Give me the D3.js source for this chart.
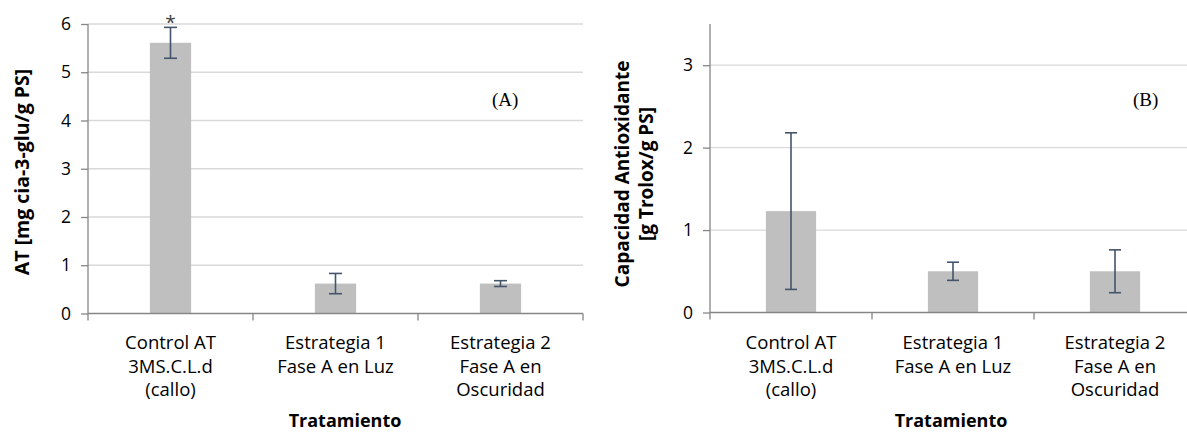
<!DOCTYPE html>
<html>
<head>
<meta charset="utf-8">
<script src="https://cdn.jsdelivr.net/npm/d3@7"></script>
<style>
  body { margin: 0; background: #fff; }
  text { font-family: "Open Sans", "Noto Sans", sans-serif; }
</style>
</head>
<body>
<svg id="chart" width="1187" height="435"></svg>
<script>
// ---------- data ----------
const categories = [
  ["Control AT", "3MS.C.L.d", "(callo)"],
  ["Estrategia 1", "Fase A en Luz"],
  ["Estrategia 2", "Fase A en", "Oscuridad"]
];
const catKeys = ["Control", "Estrategia1", "Estrategia2"];

const valuesA = [5.61, 0.62, 0.62];
const errorsA = [0.32, 0.21, 0.06];
const ticksA = [0, 1, 2, 3, 4, 5, 6];

const valuesB = [1.23, 0.50, 0.50];
const errorsB = [0.95, 0.11, 0.26];
const ticksB = [0, 1, 2, 3];

const svg = d3.select("#chart");

function drawChart(cfg) {
  const g = svg.append("g");
  const x = d3.scaleBand().domain(catKeys).range([cfg.x0, cfg.x1])
    .paddingInner(cfg.pad).paddingOuter(cfg.pad / 2);
  const y = d3.scaleLinear().domain([0, cfg.ymax]).range([cfg.yb, cfg.yt]);
  const step = x.step();

  // gridlines
  g.selectAll("line.grid").data(cfg.ticks.filter(t => t > 0)).enter()
    .append("line")
    .attr("x1", cfg.x0).attr("x2", cfg.x1)
    .attr("y1", d => y(d)).attr("y2", d => y(d))
    .attr("stroke", "#d9d9d9").attr("stroke-width", 1.3);

  // y axis
  const yAxis = d3.axisLeft(y).tickValues(cfg.ticks).tickSize(7).tickPadding(10)
    .tickFormat(d3.format("d"));
  const ya = g.append("g").attr("transform", `translate(${cfg.x0},0)`).call(yAxis);
  ya.select(".domain").attr("stroke", "#868686").attr("stroke-width", 1.3)
    .attr("d", `M0,${y(cfg.ymax)}V${cfg.yb}`);
  ya.selectAll(".tick line").attr("stroke", "#868686").attr("stroke-width", 1.3);
  ya.selectAll(".tick text").attr("font-size", 17.5).attr("fill", "#000")
    .style("font-family", "Open Sans");

  // bars
  g.selectAll("rect.bar").data(cfg.values).enter().append("rect")
    .attr("x", (d, i) => x(catKeys[i]))
    .attr("width", x.bandwidth())
    .attr("y", d => y(d))
    .attr("height", d => cfg.yb - y(d))
    .attr("fill", "#bfbfbf");

  // x axis baseline + ticks
  g.append("line").attr("x1", cfg.x0).attr("x2", cfg.x1)
    .attr("y1", cfg.yb).attr("y2", cfg.yb)
    .attr("stroke", "#868686").attr("stroke-width", 1.3);
  g.selectAll("line.xt").data(d3.range(catKeys.length + 1)).enter().append("line")
    .attr("x1", i => cfg.x0 + i * step).attr("x2", i => cfg.x0 + i * step)
    .attr("y1", cfg.yb).attr("y2", cfg.yb + 7)
    .attr("stroke", "#868686").attr("stroke-width", 1.3);

  // error bars
  const cap = cfg.cap;
  cfg.values.forEach((v, i) => {
    const cx = x(catKeys[i]) + x.bandwidth() / 2;
    const e = cfg.errors[i];
    const eg = g.append("g").attr("stroke", "#44546a").attr("stroke-width", 1.6);
    eg.append("line").attr("x1", cx).attr("x2", cx).attr("y1", y(v + e)).attr("y2", y(v - e));
    eg.append("line").attr("x1", cx - cap / 2).attr("x2", cx + cap / 2).attr("y1", y(v + e)).attr("y2", y(v + e));
    eg.append("line").attr("x1", cx - cap / 2).attr("x2", cx + cap / 2).attr("y1", y(v - e)).attr("y2", y(v - e));
  });

  // category labels
  categories.forEach((lines, i) => {
    const cx = x(catKeys[i]) + x.bandwidth() / 2;
    const t = g.append("text").attr("text-anchor", "middle")
      .attr("font-size", 18.5).attr("fill", "#000");
    lines.forEach((ln, j) => {
      t.append("tspan").attr("x", cx).attr("y", 349 + j * 23.5).text(ln);
    });
  });

  // x title
  g.append("text").attr("x", cfg.xtitleX).attr("y", 427)
    .attr("text-anchor", "middle").attr("font-weight", "bold")
    .attr("font-size", 18).text("Tratamiento");

  // panel label
  g.append("text").attr("x", cfg.labelX).attr("y", 106)
    .style("font-family", "Liberation Serif")
    .attr("font-size", 19).text(cfg.label);

  return { x, y };
}

const A = drawChart({
  x0: 88, x1: 583, yt: 24, yb: 313.5, ymax: 6, pad: 0.75,
  ticks: ticksA, values: valuesA, errors: errorsA, cap: 13,
  xtitleX: 345, labelX: 492, label: "(A)"
});
const B = drawChart({
  x0: 710, x1: 1196, yt: 24, yb: 312.5, ymax: 3.5, pad: 0.69,
  ticks: ticksB, values: valuesB, errors: errorsB, cap: 12,
  xtitleX: 951, labelX: 1133, label: "(B)"
});

// asterisk over first bar of A
svg.append("text")
  .attr("x", A.x(catKeys[0]) + A.x.bandwidth() / 2)
  .attr("y", A.y(valuesA[0] + errorsA[0]) + 2)
  .attr("text-anchor", "middle").attr("font-size", 19).attr("fill", "#404040")
  .text("*");

// y titles
svg.append("text").attr("transform", "translate(29,172) rotate(-90)")
  .attr("text-anchor", "middle").attr("font-weight", "bold").attr("font-size", 19.5)
  .text("AT [mg cia-3-glu/g PS]");
const yt = svg.append("text").attr("transform", "translate(629,174) rotate(-90)")
  .attr("text-anchor", "middle").attr("font-weight", "bold").attr("font-size", 19);
yt.append("tspan").attr("x", 0).attr("y", 0).text("Capacidad Antioxidante");
yt.append("tspan").attr("x", 0).attr("y", 23.5).text("[g Trolox/g PS]");
</script>
</body>
</html>
